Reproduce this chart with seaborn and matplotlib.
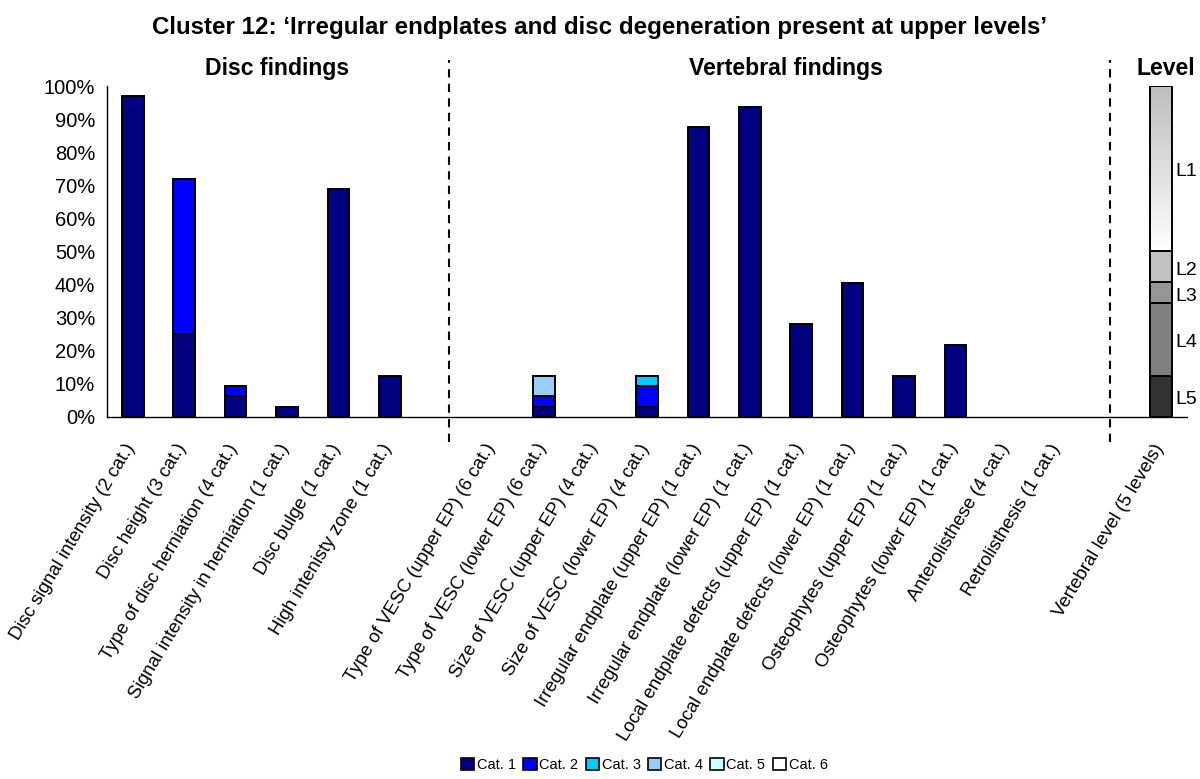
import numpy as np
import pandas as pd
import matplotlib
matplotlib.use("Agg")
import matplotlib.pyplot as plt
from matplotlib.patches import Patch
from matplotlib.colors import LinearSegmentedColormap
import matplotlib.transforms as mtransforms
import seaborn as sns

# ---- data (percent of patients in cluster) ----
disc_findings = [
    "Disc signal intensity (2 cat.)",
    "Disc height (3 cat.)",
    "Type of disc herniation (4 cat.)",
    "Signal intensity in herniation (1 cat.)",
    "Disc bulge (1 cat.)",
    "High intenisty zone (1 cat.)",
]
vert_findings = [
    "Type of VESC (upper EP) (6 cat.)",
    "Type of VESC (lower EP) (6 cat.)",
    "Size of VESC (upper EP) (4 cat.)",
    "Size of VESC (lower EP) (4 cat.)",
    "Irregular endplate (upper EP) (1 cat.)",
    "Irregular endplate (lower EP) (1 cat.)",
    "Local endplate defects (upper EP) (1 cat.)",
    "Local endplate defects (lower EP) (1 cat.)",
    "Osteophytes (upper EP) (1 cat.)",
    "Osteophytes (lower EP) (1 cat.)",
    "Anterolisthese (4 cat.)",
    "Retrolisthesis (1 cat.)",
]
level_finding = "Vertebral level (5 levels)"

cat1 = [96.9, 25.0, 6.3, 3.1, 68.8, 12.5,
        0, 3.1, 0, 3.1, 87.5, 93.8, 28.1, 40.6, 12.5, 21.9, 0, 0]
cat2 = [0, 46.9, 3.1, 0, 0, 0,
        0, 3.1, 0, 6.3, 0, 0, 0, 0, 0, 0, 0, 0]
cat3 = [0, 0, 0, 0, 0, 0,
        0, 0, 0, 3.1, 0, 0, 0, 0, 0, 0, 0, 0]
cat4 = [0, 0, 0, 0, 0, 0,
        0, 6.3, 0, 0, 0, 0, 0, 0, 0, 0, 0, 0]
cat5 = [0] * 18
cat6 = [0] * 18

cat_names = ["Cat. 1", "Cat. 2", "Cat. 3", "Cat. 4", "Cat. 5", "Cat. 6"]
cat_colors = ["#000080", "#0000FF", "#00CCFF", "#99CCFF", "#CCFFFF", "#FFFFFF"]

level_names = ["L5", "L4", "L3", "L2", "L1"]
level_pct = [12.5, 21.9, 6.3, 9.4, 50.0]
level_colors = ["#333333", "#808080", "#969696", "#C0C0C0", "#F0F0F0"]

# ---- build tables ----
findings = disc_findings + vert_findings
order = disc_findings + [" "] + vert_findings + ["  "] + [level_finding]

rows = []
for i, name in enumerate(findings):
    top = 0
    for k, vals in enumerate([cat1, cat2, cat3, cat4, cat5, cat6]):
        top += vals[i]
        rows.append({"finding": name, "cat": cat_names[k], "value": vals[i], "top": top})
df = pd.DataFrame(rows)

lv = pd.DataFrame({"level": level_names, "value": level_pct})
lv["top"] = lv["value"].cumsum()
lv["finding"] = level_finding

sns.set_style("white")
plt.rcParams["font.family"] = ["Liberation Sans", "DejaVu Sans"]
for key in ["text.color", "axes.labelcolor", "xtick.color", "ytick.color"]:
    plt.rcParams[key] = "black"

fig, ax = plt.subplots(figsize=(12, 7.79), dpi=100)
fig.subplots_adjust(left=0.0892, right=0.989, bottom=0.4647, top=0.8896)

bar_w = 0.42
# stacked bars: draw cumulative tops from last category to first
for k in range(len(cat_names) - 1, -1, -1):
    sub = df[(df["cat"] == cat_names[k]) & (df["value"] > 0)]
    if sub.empty:
        continue
    sns.barplot(data=sub, x="finding", y="top", order=order, color=cat_colors[k],
                saturation=1, edgecolor="black", linewidth=1.4, width=bar_w,
                errorbar=None, ax=ax)

# vertebral level bar
n_before = len(ax.patches)
for j in range(len(level_names) - 1, -1, -1):
    sub = lv.iloc[[j]]
    sns.barplot(data=sub, x="finding", y="top", order=order, color=level_colors[j],
                saturation=1, edgecolor="black", linewidth=1.4, width=bar_w,
                errorbar=None, ax=ax)
# gradient fill for the top level segment
p = ax.patches[n_before]
p.set_facecolor("none")
p.set_zorder(3)
grad = np.linspace(0, 1, 256).reshape(-1, 1)
cmap = LinearSegmentedColormap.from_list("g", ["#FFFFFF", "#BDBDBD"])
y0 = lv["top"].iloc[-2]
im = ax.imshow(grad, extent=[p.get_x(), p.get_x() + p.get_width(), y0, lv["top"].iloc[-1]],
               origin="lower", aspect="auto", cmap=cmap, zorder=0.5)
im.set_clip_path(p)
for q in ax.patches[n_before + 1:]:
    q.set_zorder(4)

lvl_x = order.index(level_finding)
bottoms = lv["top"] - lv["value"]
for name, b, v in zip(lv["level"], bottoms, lv["value"]):
    ax.text(lvl_x + bar_w / 2 + 0.06, b + v / 2 - 1, name, ha="left", va="center", fontsize=14)

ax.set_xlim(-0.5, len(order) - 0.5)
ax.set_ylim(0, 100)
ax.set_yticks(np.arange(0, 101, 10))
ax.set_yticklabels([f"{t}%" for t in range(0, 101, 10)], fontsize=14.5)
# labels are anchored slightly left of each bar centre so the text ends under the bar
ax.set_xticks(np.arange(len(order)) - 0.17)
ax.set_xticklabels([s.strip() for s in order], rotation=59, ha="right", va="top",
                   rotation_mode="anchor", fontsize=13.4)
ax.set_xticks(np.arange(-0.5, len(order), 1), minor=True)
ax.tick_params(axis="x", which="major", length=0, pad=17)
ax.tick_params(axis="x", which="minor", length=5, width=1, direction="out", color="black")
ax.tick_params(axis="y", length=5, width=1, direction="out", color="black")
ax.set_xlabel("")
ax.set_ylabel("")
sns.despine(ax=ax)
for s in ["left", "bottom"]:
    ax.spines[s].set_color("black")
    ax.spines[s].set_linewidth(1)

# separators
for xs in [len(disc_findings) + 0.15, order.index("  ")]:
    ax.axvline(xs, ymin=-0.076, ymax=1.08, clip_on=False, color="black",
               lw=1.5, ls=(0, (4, 3)))

# section headers
trans = mtransforms.blended_transform_factory(ax.transData, ax.transAxes)
ax.text(2.8, 1.054, "Disc findings", transform=trans, ha="center", va="center",
        fontsize=16.6, fontweight="bold")
ax.text(12.7, 1.054, "Vertebral findings", transform=trans, ha="center", va="center",
        fontsize=16.6, fontweight="bold")
ax.text(20.1, 1.054, "Level", transform=trans, ha="center", va="center",
        fontsize=16.6, fontweight="bold")

fig.suptitle("Cluster 12: \u2018Irregular endplates and disc degeneration present at upper levels\u2019",
             x=0.5, y=0.98, fontsize=17.4, fontweight="bold")

handles = [Patch(facecolor=c, edgecolor="black", linewidth=1.2) for c in cat_colors]
fig.legend(handles, cat_names, loc="lower center", bbox_to_anchor=(0.537, -0.008), ncol=6,
           frameon=False, fontsize=10.5, handlelength=0.9, handleheight=0.9,
           handletextpad=0.2, columnspacing=0.5)

fig.savefig("out.png", dpi=100)
